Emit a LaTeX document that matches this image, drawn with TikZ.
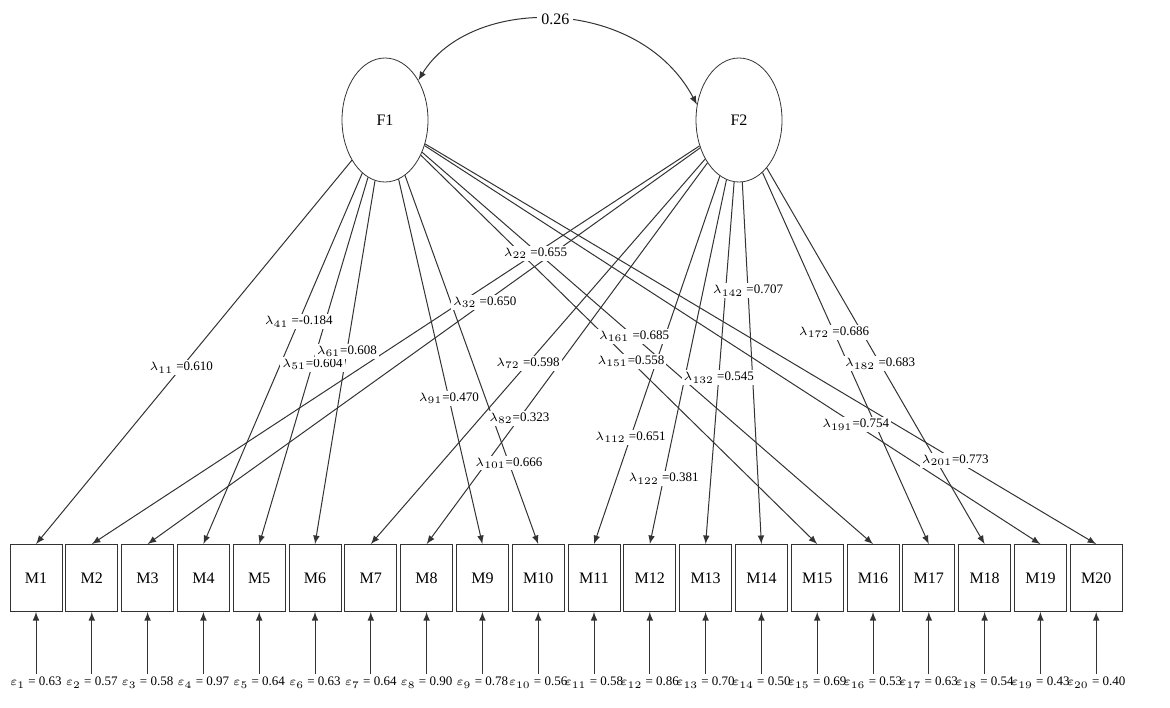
\documentclass[tikz,border=0pt]{standalone}
\usepackage{fontspec}
\setmainfont{Liberation Serif}
\usepackage{tikz}
\usetikzlibrary{arrows}
\usetikzlibrary{positioning}
\usetikzlibrary{shapes.geometric}

% factor / item / position of label / label
\newcommand{\loadlist}{%
 F1/M1/0.54/{$\lambda_{11}$ =0.610},
 F1/M4/0.40/{$\lambda_{41}$ =-0.184},
 F1/M5/0.51/{$\lambda_{51}$=0.604},
 F1/M6/0.47/{$\lambda_{61}$=0.608},
 F1/M9/0.60/{$\lambda_{91}$=0.470},
 F1/M10/0.78/{$\lambda_{101}$=0.666},
 F1/M15/0.53/{$\lambda_{151}$=0.558},
 F1/M16/0.47/{$\lambda_{161}$ =0.685},
 F1/M19/0.70/{$\lambda_{191}$=0.754},
 F1/M20/0.79/{$\lambda_{201}$=0.773},
 F2/M2/0.27/{$\lambda_{22}$ =0.655},
 F2/M3/0.39/{$\lambda_{32}$ =0.650},
 F2/M7/0.53/{$\lambda_{72}$ =0.598},
 F2/M8/0.67/{$\lambda_{82}$=0.323},
 F2/M11/0.71/{$\lambda_{112}$ =0.651},
 F2/M12/0.82/{$\lambda_{122}$ =0.381},
 F2/M13/0.54/{$\lambda_{132}$ =0.545},
 F2/M14/0.30/{$\lambda_{142}$ =0.707},
 F2/M17/0.43/{$\lambda_{172}$ =0.686},
 F2/M18/0.52/{$\lambda_{182}$ =0.683}}

\begin{document}
\begin{tikzpicture}[x=0.5pt,y=-0.5pt,>=latex,
 load/.style={->,line width=0.5pt,draw=black!80},
 lab/.style={fill=white,inner sep=1pt,font=\fontsize{6.5}{7}\selectfont},
 err/.style={inner sep=1.5pt,font=\fontsize{6.5}{7}\selectfont}]
 \useasboundingbox (0,0) rectangle (1170,707);

 \begin{scope}[every node/.style={draw=black!80,ellipse,minimum width=43pt,minimum height=62pt,font=\fontsize{8}{9}\selectfont}]
 \node (F1) at (385,120) {F1};
 \node (F2) at (739,120) {F2};
 \end{scope}

 \begin{scope}[every node/.style={draw=black!80,rectangle,minimum width=26pt,minimum height=33.5pt,font=\fontsize{8}{9}\selectfont}]
 \node (M1) at (36,578) {M1};
 \foreach \i [count=\j] in {2,...,20}
  \node [right=1.5pt of M\j] (M\i) {M\i};
 \end{scope}

 % error terms
 \foreach \i/\v in {1/0.63,2/0.57,3/0.58,4/0.97,5/0.64,6/0.63,7/0.64,8/0.90,9/0.78,10/0.56,
   11/0.58,12/0.86,13/0.70,14/0.50,15/0.69,16/0.53,17/0.63,18/0.54,19/0.43,20/0.40}
 {
  \node [err,below=31pt of M\i] (e\i) {$\varepsilon_{\i}$ = \v};
  \draw [load] (e\i) -- (M\i);
 }

 % loadings
 \foreach \f/\m/\p/\t in \loadlist
  \draw [load] (\f) -- coordinate[pos=\p] (l\m) (\m.north);
 \foreach \f/\m/\p/\t in \loadlist
  \node [lab] at (l\m) {\t};

 % factor correlation
 \draw [<->,line width=0.5pt,draw=black!80] (F1.50) .. controls (470,-5) and (639,-5) .. (F2.160)
  node [pos=0.5,fill=white,inner sep=2pt,font=\fontsize{8}{9}\selectfont] (r12) {0.26};
\end{tikzpicture}
\end{document}
